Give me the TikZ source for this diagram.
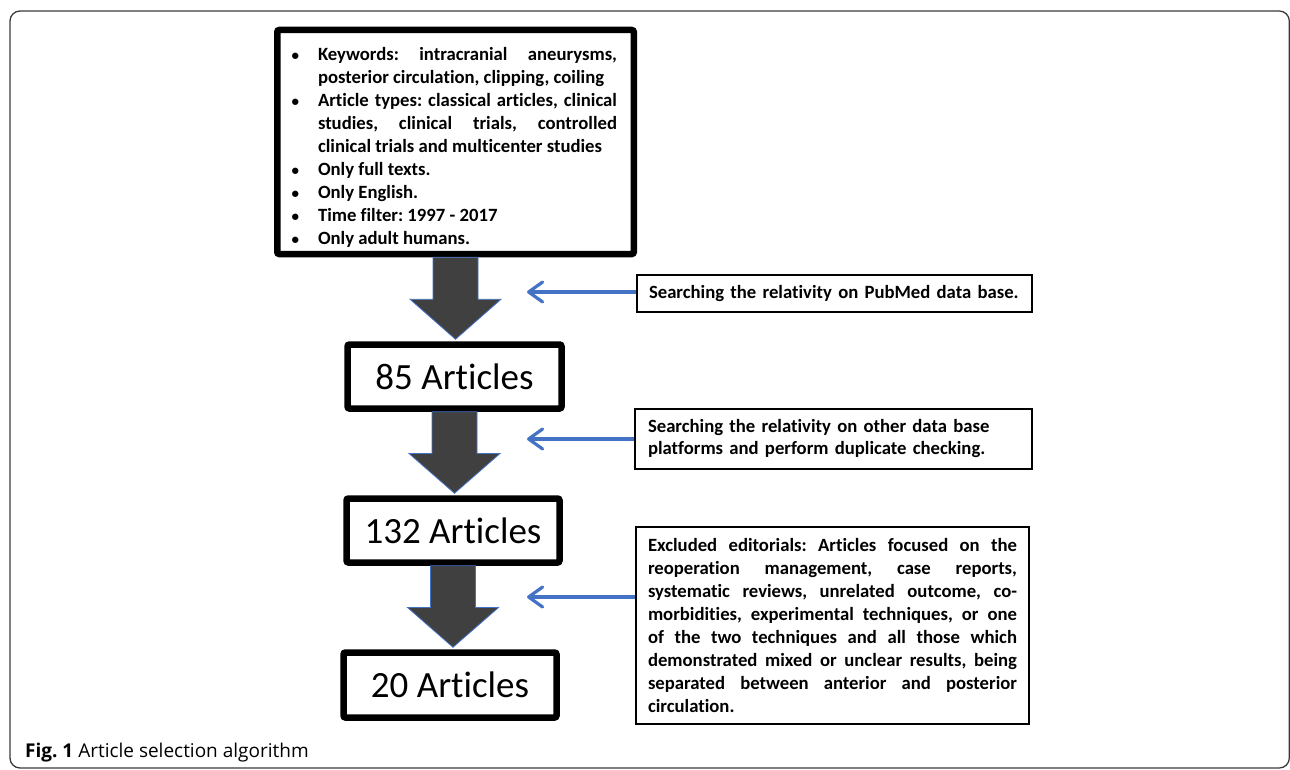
\documentclass[tikz,border=0pt]{standalone}
\usepackage{fontspec}
\setmainfont{Carlito}[Ligatures={NoCommon,NoDiscretionary,NoContextual}]
\newfontfamily\capfont{Open Sans}
\usetikzlibrary{arrows.meta,calc}
\definecolor{arrowblue}{HTML}{4472C4}
\definecolor{arrowgray}{HTML}{404040}
\definecolor{framegray}{HTML}{3A3A3A}
\frenchspacing
\hyphenpenalty=10000
\newcommand\bul[1]{\par\noindent\leftskip=24pt\llap{{\fontsize{15}{15}\selectfont\textbullet}\hspace{19pt}}#1\par}
\newcommand\flowarrow[2]{%
  \filldraw[bigarrowstyle] let \p1=(#1.south), \p2=(#2.north) in
    (\x1-22.5pt,\y1) -- (\x1+22.5pt,\y1) -- (\x1+22.5pt,{0.5*(\y1+\y2)})
    -- (\x1+45.5pt,{0.5*(\y1+\y2)}) -- (\x1,\y2+2pt)
    -- (\x1-45.5pt,{0.5*(\y1+\y2)}) -- (\x1-22.5pt,{0.5*(\y1+\y2)}) -- cycle;}
\begin{document}
\begin{tikzpicture}[x=1pt,y=-1pt,
  thickbox/.style={draw=black, line width=6.5pt, rounded corners=2pt, fill=white},
  sidebox/.style={draw=black, line width=1.2pt, fill=white},
  bignum/.style={font=\fontsize{37}{44}\selectfont},
  bodytext/.style={font=\bfseries\fontsize{18.7}{23}\selectfont},
  sidearrow/.style={draw=arrowblue, line width=3.2pt, -{Straight Barb[length=14pt,width=20pt,round]}},
  bigarrowstyle/.style={fill=arrowgray, draw=arrowblue, line width=0.8pt, line join=miter}]
\useasboundingbox (0,0) rectangle (1290,770);
\draw[framegray, line width=1.3pt, rounded corners=10pt] (10,11) rectangle (1289.3,768);

\node[thickbox, minimum width=356.5pt, minimum height=224pt, text width=323pt,
      inner sep=0pt, bodytext, align=justify] (crit) at (455.5,142) {%
  \bul{Keywords: intracranial aneurysms,\linebreak posterior circulation, clipping, coiling}%
  \bul{Article types: classical articles, clinical\linebreak studies, clinical trials, controlled\linebreak clinical trials and multicenter studies}%
  \bul{Only full texts.}%
  \bul{Only English.}%
  \bul{Time filter: 1997 - 2017}%
  \bul{Only adult humans.}};

\node[thickbox, bignum, minimum width=214pt, minimum height=64pt, inner sep=0pt] (a85) at (454.5,376.5) {85 Articles};
\node[thickbox, bignum, minimum width=213pt, minimum height=64pt, inner sep=0pt] (a132) at (453,530.5) {132 Articles};
\node[thickbox, bignum, minimum width=213pt, minimum height=65pt, inner sep=0pt] (a20) at (450,685) {20 Articles};

\flowarrow{crit}{a85}
\flowarrow{a85}{a132}
\flowarrow{a132}{a20}

\node[sidebox, bodytext, minimum width=395pt, minimum height=37pt, text width=371pt, inner sep=0pt, align=left] (pub) at (834.5,293.5) {Searching the relativity on PubMed data base.};
\node[sidebox, font=\bfseries\fontsize{18.7}{22}\selectfont, minimum width=397pt, minimum height=60pt, text width=371pt, inner sep=0pt, align=left] (other) at (833.5,439) {Searching the relativity on other data base\\platforms and perform duplicate checking.};
\node[sidebox, bodytext, minimum width=393pt, minimum height=197pt, text width=369pt, inner sep=0pt, align=justify] (excl) at (832.5,625.5) {%
  Excluded editorials: Articles focused on the\linebreak reoperation management, case reports,\linebreak systematic reviews, unrelated outcome, co-\linebreak morbidities, experimental techniques, or one\linebreak of the two techniques and all those which\linebreak demonstrated mixed or unclear results, being\linebreak separated between anterior and posterior\linebreak circulation.};

\coordinate (t1) at (527,292);
\coordinate (t2) at (527,439);
\coordinate (t3) at (527,597);
\draw[sidearrow] (t1 -| pub.west) -- (t1);
\draw[sidearrow] (t2 -| other.west) -- (t2);
\draw[sidearrow] (t3 -| excl.west) -- (t3);

\node[anchor=base west, inner sep=0pt, font=\capfont\fontsize{19}{23}\selectfont] (cap) at (25,757) {\textbf{Fig. 1} Article selection algorithm};
\end{tikzpicture}
\end{document}
